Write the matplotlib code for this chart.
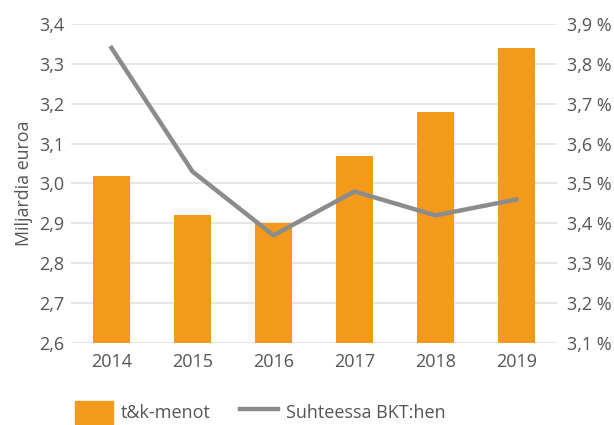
import matplotlib.pyplot as plt
import numpy as np
from matplotlib.patches import Patch
from matplotlib.lines import Line2D

plt.rcParams['font.family'] = ['Open Sans', 'DejaVu Sans']

years = ['2014', '2015', '2016', '2017', '2018', '2019']
rd_spend = [3.02, 2.92, 2.90, 3.07, 3.18, 3.34]   # t&k-menot, mrd euroa
gdp_share = [3.84, 3.53, 3.37, 3.48, 3.42, 3.46]  # % BKT:sta

orange = '#F39A1C'
gray = '#8C8C8C'
txt = '#555555'
grid = '#E3E3E3'

fig = plt.figure(figsize=(6.14, 4.25), dpi=100)
ax = fig.add_axes([0.1156, 0.193, 0.7914, 0.7505])
x = np.arange(len(years))

ax.bar(x, rd_spend, width=0.46, color=orange, zorder=2)
ax.set_ylim(2.6, 3.4)
ax.set_xlim(-0.5, 5.5)
lt = np.arange(2.6, 3.41, 0.1)
ax.set_yticks(lt)
ax.set_yticklabels([f'{v:.1f}'.replace('.', ',') for v in lt])
ax.set_xticks(x)
ax.set_xticklabels(years)
ax.grid(axis='y', color=grid, lw=1.2, zorder=0)
ax.set_axisbelow(True)
ax.set_ylabel('Miljardia euroa', color=txt, fontsize=12.8, labelpad=4)

ax2 = ax.twinx()
ax2.plot(x, gdp_share, color=gray, lw=3.2, zorder=3)
ax2.set_ylim(3.1, 3.9)
rt = np.arange(3.1, 3.91, 0.1)
ax2.set_yticks(rt)
ax2.set_yticklabels([f'{v:.1f} %'.replace('.', ',') for v in rt])

for a in (ax, ax2):
    for s in a.spines.values():
        s.set_visible(False)
    a.tick_params(length=0, colors=txt, labelsize=13)
ax.tick_params(axis='x', pad=7)
ax.tick_params(axis='y', pad=5)
ax2.tick_params(axis='y', pad=7)

handles = [Patch(color=orange), Line2D([], [], color=gray, lw=3.2)]
fig.legend(handles, ['t&k-menot', 'Suhteessa BKT:hen'], loc='center left',
           bbox_to_anchor=(0.096, 0.03), ncol=2, frameon=False, fontsize=13,
           labelcolor=txt, handlelength=2.1, handleheight=1.6, columnspacing=1.6,
           handletextpad=0.45)

fig.savefig('out.png', dpi=100)
